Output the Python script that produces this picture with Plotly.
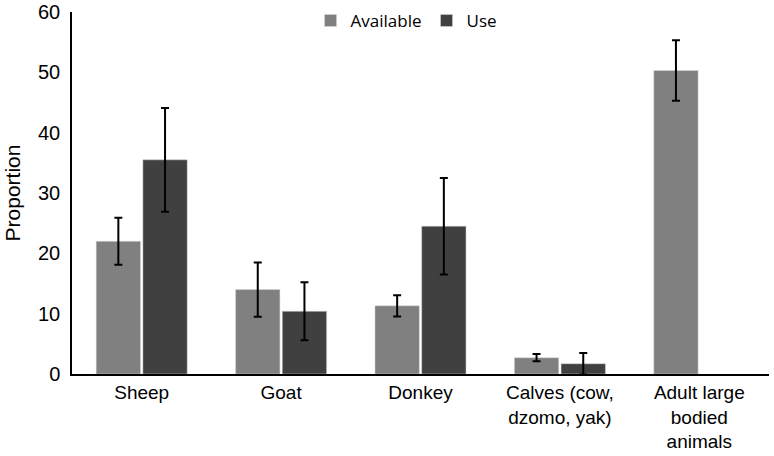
import plotly.graph_objects as go

categories = ["Sheep", "Goat", "Donkey", "Calves (cow,<br>dzomo, yak)", "Adult large<br>bodied<br>animals"]
available = [22.0, 14.0, 11.3, 2.7, 50.3]
available_err = [3.9, 4.5, 1.75, 0.6, 5.0]
use = [35.5, 10.4, 24.5, 1.7, None]
use_err = [8.6, 4.8, 8.0, 1.8, None]

fig = go.Figure()
fig.add_trace(go.Bar(
    name="Available", x=categories, y=available,
    marker=dict(color="#808080", line=dict(color="#d9d9d9", width=0.5)),
    error_y=dict(type="data", array=available_err, color="black", thickness=2, width=4),
))
fig.add_trace(go.Bar(
    name="Use", x=categories, y=use,
    marker=dict(color="#404040", line=dict(color="#d9d9d9", width=0.5)),
    error_y=dict(type="data", array=use_err, color="black", thickness=2, width=4),
))

fig.update_layout(
    width=774, height=456,
    margin=dict(l=72, r=5, t=12, b=82, autoexpand=False),
    plot_bgcolor="white", paper_bgcolor="white",
    barmode="group", bargap=0.33, bargroupgap=0.05,
    font=dict(family="Liberation Sans, Arial, sans-serif", size=20, color="black"),
    legend=dict(orientation="h", x=0.48, xanchor="center", y=1.025, yanchor="top",
                font=dict(size=17, family="Open Sans, sans-serif"), traceorder="normal",
                itemwidth=30),
    showlegend=True,
)
fig.update_xaxes(showline=True, linecolor="black", linewidth=2, ticks="", showgrid=False,
                 tickfont=dict(size=19), automargin=False)
fig.update_yaxes(range=[0, 60], dtick=10, showline=True, linecolor="black", linewidth=1.5,
                 ticks="", showgrid=False, zeroline=False, tickfont=dict(size=20),
                 automargin=False, ticklabelstandoff=6,
                 title=dict(text="Proportion", font=dict(size=21), standoff=12))

fig.write_html("out.html", post_script="document.body.style.margin='0';",
               config={"displayModeBar": False})
